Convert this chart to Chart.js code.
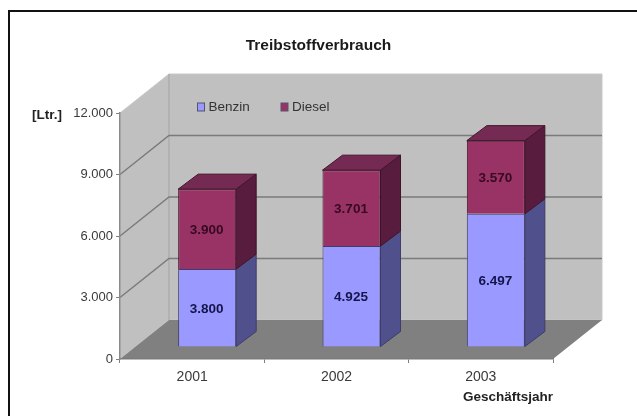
<!DOCTYPE html>
<html>
<head>
<meta charset="utf-8">
<title>Treibstoffverbrauch</title>
<script src="https://cdn.jsdelivr.net/npm/chart.js@4"></script>
<style>
  html, body { margin: 0; padding: 0; background: #fff; }
  canvas { display: block; filter: blur(0.5px); }
</style>
</head>
<body>
<canvas id="grafik" width="637" height="416"></canvas>
<script>
const jahre = ['2001', '2002', '2003'];
const benzin = [3800, 4925, 6497];
const diesel = [3900, 3701, 3570];
const yTicks = ['0', '3.000', '6.000', '9.000', '12.000'];

const schrift = 'Liberation Sans, Arial, sans-serif';
// depth of the fake 3d box
const tiefeX = 49, tiefeY = 39;
// bars stand a bit behind the front edge of the floor
const barVersatzX = 15, barVersatzY = 12;
const barTiefeX = 20, barTiefeY = 15;

const farben = [
    { front: '#9999ff', seite: '#50508c', rand: '#3e3c68' },
    { front: '#993366', seite: '#571c3e', oben: '#742a52', rand: '#401428' }
];

function poly(ctx, pts, fill, stroke) {
    ctx.beginPath();
    ctx.moveTo(pts[0][0], pts[0][1]);
    for (let i = 1; i < pts.length; i++) ctx.lineTo(pts[i][0], pts[i][1]);
    ctx.closePath();
    if (fill) { ctx.fillStyle = fill; ctx.fill(); }
    if (stroke) { ctx.strokeStyle = stroke; ctx.lineWidth = 1; ctx.stroke(); }
}

function punkte(v) {
    return String(v).replace(/\B(?=(\d{3})+$)/g, '.');
}

const box3d = {
    id: 'box3d',
    afterLayout(chart) {
        // title is centred on the whole page, not on the plot
        chart.titleBlock.left = 0;
        chart.titleBlock.right = chart.width;
    },
    beforeDraw(chart) {
        const ctx = chart.ctx;
        const a = chart.chartArea;
        const y = chart.scales.y;
        ctx.save();
        // page frame
        ctx.strokeStyle = '#111';
        ctx.lineWidth = 2;
        ctx.beginPath();
        ctx.moveTo(9, 416);
        ctx.lineTo(9, 11);
        ctx.lineTo(637, 11);
        ctx.stroke();

        poly(ctx, [[a.left + tiefeX, a.top - tiefeY], [a.right + tiefeX, a.top - tiefeY], [a.right + tiefeX, a.bottom - tiefeY], [a.left + tiefeX, a.bottom - tiefeY]], '#c0c0c0', '#c8c8c8');
        poly(ctx, [[a.left, a.top], [a.left + tiefeX, a.top - tiefeY], [a.left + tiefeX, a.bottom - tiefeY], [a.left, a.bottom]], '#c0c0c0', '#c8c8c8');
        poly(ctx, [[a.left, a.bottom], [a.right, a.bottom], [a.right + tiefeX, a.bottom - tiefeY], [a.left + tiefeX, a.bottom - tiefeY]], '#808080');

        // corner between left and back wall
        ctx.strokeStyle = '#a6a6a6';
        ctx.lineWidth = 1.2;
        ctx.beginPath();
        ctx.moveTo(a.left + tiefeX, a.top - tiefeY);
        ctx.lineTo(a.left + tiefeX, a.bottom - tiefeY);
        ctx.stroke();

        // grid lines run along left wall and back wall
        ctx.strokeStyle = '#7a7a7a';
        ctx.lineWidth = 1.4;
        y.ticks.forEach(t => {
            if (t.value === 0 || t.value === y.max) return;
            const py = y.getPixelForValue(t.value);
            ctx.beginPath();
            ctx.moveTo(a.left, py);
            ctx.lineTo(a.left + tiefeX, py - tiefeY);
            ctx.lineTo(a.right + tiefeX, py - tiefeY);
            ctx.stroke();
        });
        ctx.restore();
    },
    beforeDatasetsDraw(chart) {
        const ctx = chart.ctx;
        const letzter = chart.data.datasets.length - 1;
        chart.data.datasets.forEach((ds, i) => {
            chart.getDatasetMeta(i).data.forEach(bar => {
                const r = bar.x + bar.width / 2 + barVersatzX;
                const l = bar.x - bar.width / 2 + barVersatzX;
                const o = bar.y - barVersatzY;
                const u = bar.base - barVersatzY;
                poly(ctx, [[r, o], [r + barTiefeX, o - barTiefeY], [r + barTiefeX, u - barTiefeY], [r, u]], farben[i].seite, farben[i].rand);
                if (i === letzter) {
                    poly(ctx, [[l, o], [r, o], [r + barTiefeX, o - barTiefeY], [l + barTiefeX, o - barTiefeY]], farben[i].oben, farben[i].rand);
                }
            });
        });
        ctx.save();
        ctx.translate(barVersatzX, -barVersatzY);
    },
    afterDatasetsDraw(chart) {
        const ctx = chart.ctx;
        ctx.restore();
        ctx.save();
        ctx.font = 'bold 13.5px ' + schrift;
        ctx.textAlign = 'center';
        ctx.textBaseline = 'middle';
        chart.data.datasets.forEach((ds, i) => {
            ctx.fillStyle = i === 0 ? '#14144c' : '#360a22';
            chart.getDatasetMeta(i).data.forEach((bar, j) => {
                ctx.fillText(punkte(ds.data[j]), bar.x + barVersatzX - 0.5, (bar.y + bar.base) / 2 - barVersatzY + 1);
            });
        });

        // legend sits on the back wall
        const lx = [197.5, 281];
        ctx.font = '13.5px ' + schrift;
        ctx.textAlign = 'left';
        chart.data.datasets.forEach((ds, i) => {
            ctx.fillStyle = ds.backgroundColor;
            ctx.strokeStyle = '#55556a';
            ctx.lineWidth = 1;
            ctx.fillRect(lx[i], 103, 7, 8);
            ctx.strokeRect(lx[i], 103, 7, 8);
            ctx.fillStyle = '#333';
            ctx.fillText(ds.label, lx[i] + 11, 107.5);
        });

        // y axis unit next to the top tick
        ctx.font = 'bold 13.5px ' + schrift;
        ctx.fillStyle = '#222';
        ctx.fillText('[Ltr.]', 32, 115);
        ctx.restore();
    }
};

new Chart(document.getElementById('grafik'), {
    type: 'bar',
    data: {
        labels: jahre,
        datasets: [
            { label: 'Benzin', data: benzin, backgroundColor: farben[0].front, borderColor: farben[0].rand, borderWidth: 1, clip: false },
            { label: 'Diesel', data: diesel, backgroundColor: farben[1].front, borderColor: farben[1].rand, borderWidth: 1, clip: false }
        ]
    },
    options: {
        responsive: false,
        animation: false,
        layout: { autoPadding: false, padding: { left: 0, right: 84, top: 0, bottom: 0 } },
        categoryPercentage: 1,
        barPercentage: 0.402,
        plugins: {
            legend: { display: false },
            tooltip: { enabled: false },
            title: {
                display: true,
                text: 'Treibstoffverbrauch',
                color: '#1a1a1a',
                font: { family: schrift, size: 15.5, weight: 'bold' },
                padding: { top: 36, bottom: 58.4 }
            }
        },
        scales: {
            x: {
                stacked: true,
                border: { color: '#7a7a7a', width: 1.5 },
                grid: { drawOnChartArea: false, tickLength: 4, tickColor: '#808080' },
                ticks: { color: '#3a3a3a', padding: 6, maxRotation: 0, font: { family: schrift, size: 14 } },
                title: {
                    display: true,
                    text: 'Geschäftsjahr',
                    align: 'end',
                    color: '#222',
                    font: { family: schrift, size: 13.5, weight: 'bold' },
                    padding: { top: 2, bottom: 11 }
                },
                afterFit(scale) { scale.height = 57; }
            },
            y: {
                stacked: true,
                min: 0,
                max: 12000,
                border: { color: '#8a8a8a', width: 1.5 },
                grid: { drawOnChartArea: false, tickLength: 4, tickColor: '#808080' },
                ticks: {
                    stepSize: 3000,
                    color: '#3a3a3a',
                    padding: 3,
                    font: { family: schrift, size: 13 },
                    callback: (v, i) => yTicks[i]
                },
                afterFit(scale) { scale.width = 120; }
            }
        }
    },
    plugins: [box3d]
});
</script>
</body>
</html>
